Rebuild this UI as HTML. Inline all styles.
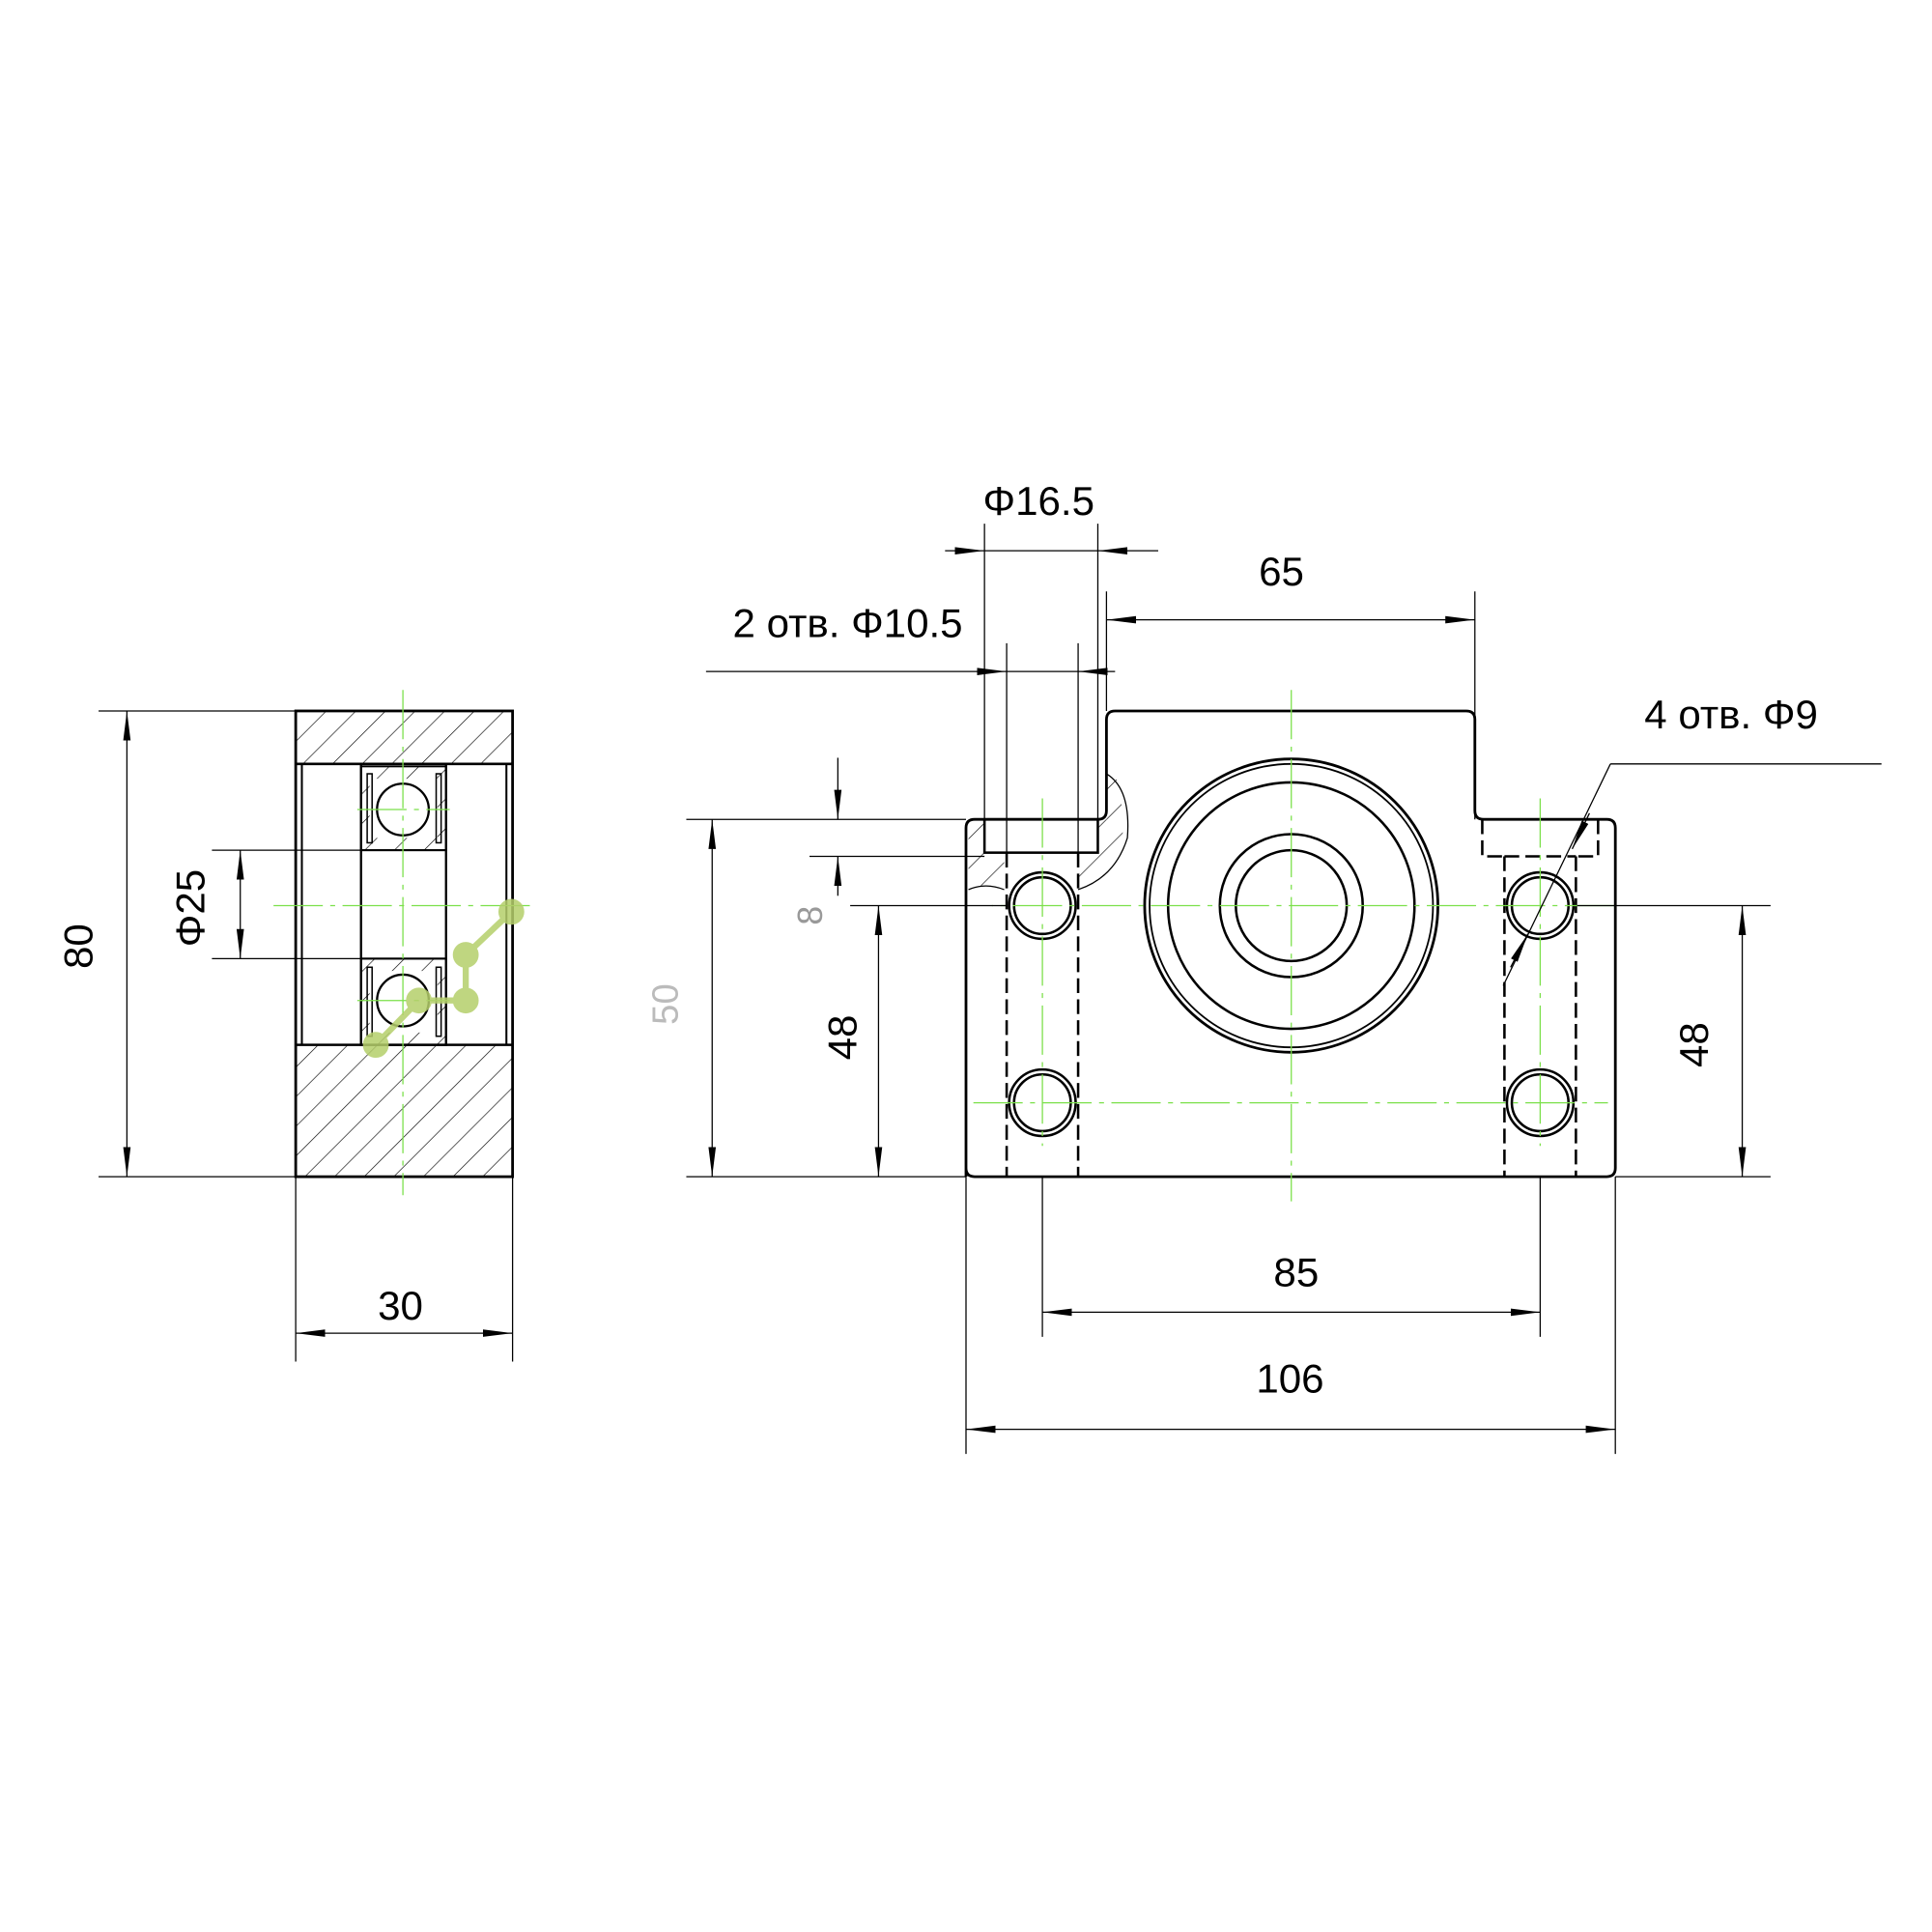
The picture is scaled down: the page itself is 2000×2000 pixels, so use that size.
<!DOCTYPE html>
<html><head><meta charset="utf-8"><style>html,body{margin:0;padding:0;background:#fff}svg{display:block}</style></head>
<body>
<svg width="2000" height="2000" viewBox="0 0 1568 1568" xmlns="http://www.w3.org/2000/svg" font-family="Liberation Sans, DejaVu Sans, sans-serif">
<defs>
<marker id="a" viewBox="0 0 24 8" refX="24" refY="4" markerWidth="24" markerHeight="8" orient="auto-start-reverse" markerUnits="userSpaceOnUse"><path d="M0,1 L24,4 L0,7 Z" fill="#000"/></marker>
<pattern id="h" patternUnits="userSpaceOnUse" width="17" height="17" patternTransform="rotate(45)"><line x1="0" y1="0" x2="0" y2="17" stroke="#000" stroke-width="1"/></pattern>
</defs>
<g stroke="#000" fill="none">
<rect x="240" y="577" width="176" height="43" fill="url(#h)"/>
<rect x="240" y="848" width="176" height="107" fill="url(#h)"/>
<rect x="240" y="577" width="176" height="378" stroke-width="2.2"/>
<line x1="240" y1="620" x2="416" y2="620" stroke-width="2"/>
<line x1="240" y1="848" x2="416" y2="848" stroke-width="2"/>
<line x1="245" y1="620" x2="245" y2="848" stroke-width="1.6"/>
<line x1="411" y1="620" x2="411" y2="848" stroke-width="1.6"/>
<rect x="293" y="622" width="69" height="68" fill="url(#h)" stroke-width="1.5"/>
<rect x="293" y="778" width="69" height="70" fill="url(#h)" stroke-width="1.5"/>
<rect x="293" y="620" width="69" height="228" stroke-width="1.8"/>
<line x1="293" y1="690" x2="362" y2="690" stroke-width="1.6"/>
<line x1="293" y1="778" x2="362" y2="778" stroke-width="1.6"/>
<rect x="300" y="632" width="55" height="48" fill="#fff" stroke="none"/>
<rect x="300" y="788" width="55" height="50" fill="#fff" stroke="none"/>
<circle cx="327" cy="657" r="21" stroke-width="1.8" fill="#fff"/>
<circle cx="327" cy="812" r="21" stroke-width="1.8" fill="#fff"/>
<rect x="298" y="628" width="4" height="56" stroke-width="1.2"/><rect x="354" y="628" width="4" height="56" stroke-width="1.2"/>
<rect x="298" y="785" width="4" height="56" stroke-width="1.2"/><rect x="354" y="785" width="4" height="56" stroke-width="1.2"/>
<g stroke="#7be04a" stroke-width="1" stroke-dasharray="40,6,4,6">
<line x1="327" y1="560" x2="327" y2="970"/><line x1="222" y1="735" x2="430" y2="735"/>
<line x1="290" y1="657" x2="365" y2="657"/><line x1="290" y1="812" x2="365" y2="812"/>
</g>
<g stroke-width="1">
<line x1="80" y1="577" x2="240" y2="577"/><line x1="80" y1="955" x2="240" y2="955"/>
<line x1="103" y1="577" x2="103" y2="955" marker-start="url(#a)" marker-end="url(#a)"/>
<line x1="172" y1="690" x2="293" y2="690"/><line x1="172" y1="778" x2="293" y2="778"/>
<line x1="195" y1="690" x2="195" y2="778" marker-start="url(#a)" marker-end="url(#a)"/>
<line x1="240" y1="955" x2="240" y2="1105"/><line x1="416" y1="955" x2="416" y2="1105"/>
<line x1="240" y1="1082" x2="416" y2="1082" marker-start="url(#a)" marker-end="url(#a)"/>
</g>

<path d="M786,672 L786,722 Q800,715 815,722 L815,692 L798,692 L798,665 Z" fill="url(#h)" stroke="none"/>
<path d="M891,665 L891,692 L875,692 L875,722 Q890,714 905,700 Q918,675 905,628 L898,624 L898,665 Z" fill="url(#h)" stroke="none"/>
<path d="M898,628 Q918,640 915,680 Q905,712 875,722" stroke-width="1"/>
<path d="M786,722 Q800,716 815,722" stroke-width="1"/>
<path d="M784,955 L784,672 Q784,665 791,665 L891,665 Q898,665 898,658 L898,584 Q898,577 905,577 L1190,577 Q1197,577 1197,584 L1197,658 Q1197,665 1204,665 L1304,665 Q1311,665 1311,672 L1311,948 Q1311,955 1304,955 L791,955 Q784,955 784,948 Z" stroke-width="2.2"/>
<rect x="799" y="665" width="92" height="27" stroke-width="2"/>
<line x1="817" y1="692" x2="817" y2="955" stroke-width="2" stroke-dasharray="12,5"/>
<line x1="875" y1="692" x2="875" y2="955" stroke-width="2" stroke-dasharray="12,5"/>
<path d="M1203,665 L1203,695 L1221,695 M1297,665 L1297,695 L1279,695 M1221,695 L1279,695" stroke-width="2" stroke-dasharray="12,5"/>
<line x1="1221" y1="695" x2="1221" y2="955" stroke-width="2" stroke-dasharray="12,5"/>
<line x1="1279" y1="695" x2="1279" y2="955" stroke-width="2" stroke-dasharray="12,5"/>
<circle cx="1048" cy="735" r="119" stroke-width="2.2"/>
<circle cx="1048" cy="735" r="115" stroke-width="1.4"/>
<circle cx="1048" cy="735" r="100" stroke-width="2"/>
<circle cx="1048" cy="735" r="58" stroke-width="2"/>
<circle cx="1048" cy="735" r="45" stroke-width="2"/>
<g stroke-width="2">
<circle cx="846" cy="735" r="27"/><circle cx="846" cy="735" r="23"/>
<circle cx="846" cy="895" r="27"/><circle cx="846" cy="895" r="23"/>
<circle cx="1250" cy="735" r="27"/><circle cx="1250" cy="735" r="23"/>
<circle cx="1250" cy="895" r="27"/><circle cx="1250" cy="895" r="23"/>
</g>
<g stroke="#7be04a" stroke-width="1" stroke-dasharray="40,6,4,6">
<line x1="1048" y1="560" x2="1048" y2="975"/>
<line x1="1310" y1="735" x2="805" y2="735"/>
<line x1="790" y1="895" x2="1305" y2="895"/>
<line x1="846" y1="648" x2="846" y2="930"/>
<line x1="1250" y1="648" x2="1250" y2="930"/>
</g>
<g stroke-width="1">
<line x1="799" y1="425" x2="799" y2="665"/><line x1="891" y1="425" x2="891" y2="665"/>
<line x1="767" y1="447" x2="799" y2="447" marker-end="url(#a)"/>
<line x1="799" y1="447" x2="891" y2="447"/>
<line x1="940" y1="447" x2="891" y2="447" marker-end="url(#a)"/>
<line x1="898" y1="480" x2="898" y2="577"/><line x1="1197" y1="480" x2="1197" y2="665"/>
<line x1="898" y1="503" x2="1197" y2="503" marker-start="url(#a)" marker-end="url(#a)"/>
<line x1="817" y1="522" x2="817" y2="692"/><line x1="875" y1="522" x2="875" y2="692"/>
<line x1="573" y1="545" x2="817" y2="545" marker-end="url(#a)"/>
<line x1="817" y1="545" x2="875" y2="545"/>
<line x1="905" y1="545" x2="875" y2="545" marker-end="url(#a)"/>
<line x1="1527" y1="620" x2="1307" y2="620"/>
<line x1="1307" y1="620" x2="1220" y2="800"/>
<line x1="1290" y1="660" x2="1276" y2="689" marker-end="url(#a)"/>
<line x1="1226" y1="785" x2="1240" y2="758" marker-end="url(#a)"/>
<line x1="557" y1="665" x2="784" y2="665"/><line x1="657" y1="695" x2="799" y2="695"/>
<line x1="680" y1="615" x2="680" y2="665" marker-end="url(#a)"/>
<line x1="680" y1="727" x2="680" y2="695" marker-end="url(#a)"/>
<line x1="557" y1="955" x2="784" y2="955"/>
<line x1="578" y1="665" x2="578" y2="955" marker-start="url(#a)" marker-end="url(#a)"/>
<line x1="690" y1="735" x2="817" y2="735"/>
<line x1="713" y1="735" x2="713" y2="955" marker-start="url(#a)" marker-end="url(#a)"/>
<line x1="1280" y1="735" x2="1437" y2="735"/><line x1="1311" y1="955" x2="1437" y2="955"/>
<line x1="1414" y1="735" x2="1414" y2="955" marker-start="url(#a)" marker-end="url(#a)"/>
<line x1="846" y1="955" x2="846" y2="1085"/><line x1="1250" y1="955" x2="1250" y2="1085"/>
<line x1="846" y1="1065" x2="1250" y2="1065" marker-start="url(#a)" marker-end="url(#a)"/>
<line x1="784" y1="955" x2="784" y2="1180"/><line x1="1311" y1="955" x2="1311" y2="1180"/>
<line x1="784" y1="1160" x2="1311" y2="1160" marker-start="url(#a)" marker-end="url(#a)"/>
</g>
</g>
<g font-size="33" fill="#000" text-anchor="middle">
<text x="75" y="768" transform="rotate(-90 75 768)">80</text>
<text x="166" y="737" transform="rotate(-90 166 737)">Φ25</text>
<text x="325" y="1071">30</text>
<text x="843" y="418">Φ16.5</text>
<text x="1040" y="475">65</text>
<text x="688" y="517">2 отв. Φ10.5</text>
<text x="1405" y="591">4 отв. Φ9</text>
<text x="667" y="743" transform="rotate(-90 667 743)" fill="#999" font-size="28">8</text>
<text x="550" y="815" transform="rotate(-90 550 815)" fill="#bbb" font-size="30">50</text>
<text x="695" y="842" transform="rotate(-90 695 842)">48</text>
<text x="1386" y="848" transform="rotate(-90 1386 848)">48</text>
<text x="1052" y="1044">85</text>
<text x="1047" y="1130">106</text>
</g>
<g fill="#b5cf6b" stroke="#b5cf6b" stroke-width="5" opacity="0.85">
<polyline points="305,848 340,812 378,812 378,775 415,740" fill="none"/>
<circle cx="305" cy="848" r="8"/><circle cx="340" cy="812" r="8"/><circle cx="378" cy="812" r="8"/><circle cx="378" cy="775" r="8"/><circle cx="415" cy="740" r="8"/>
</g>
</svg>
</body></html>
